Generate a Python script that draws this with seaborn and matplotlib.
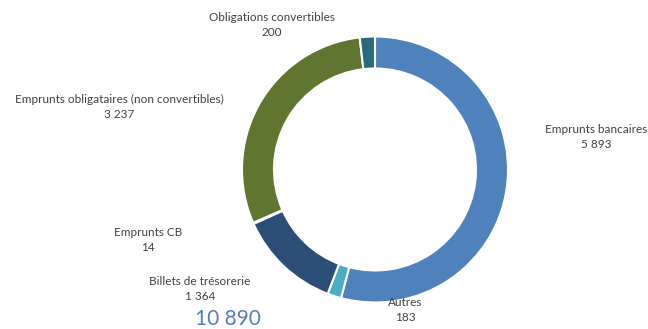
import matplotlib
matplotlib.use("Agg")
import matplotlib.pyplot as plt
import seaborn as sns

categories = ["Emprunts bancaires", "Autres", "Billets de trésorerie", "Emprunts CB",
              "Emprunts obligataires (non convertibles)", "Obligations convertibles"]
values = [5893, 183, 1364, 14, 3237, 200]
total = 10890

colors = ["#4F81BD", "#4BACC6", "#2C4D75", "#7F6084", "#5F7530", "#276A7C"]
# label centre positions in pixel coordinates (x, y from top)
label_pos = [(596, 137), (405, 310), (200, 289), (148, 240), (119, 107), (272, 25)]

sns.set_theme(style="white")
plt.rcParams['font.family'] = ['Lato', 'DejaVu Sans']

W, H = 648, 329
fig = plt.figure(figsize=(W / 100, H / 100), dpi=100)
ax = fig.add_axes([0, 0, 1, 1])

cx, cy, r = 375, H - 169.5, 133
ax.pie(values, colors=colors, startangle=90, counterclock=False,
       center=(cx, cy), radius=r, frame=True,
       wedgeprops=dict(width=32, edgecolor='white', linewidth=1.5))
ax.set_xlim(0, W)
ax.set_ylim(0, H)
ax.set_aspect('equal')
ax.axis('off')

def fmt(v):
    return f"{v:,}".replace(",", " ")

for cat, v, (x, y) in zip(categories, values, label_pos):
    ax.text(x, H - y, f"{cat}\n{fmt(v)}", ha='center', va='center',
            fontsize=8.5, color='#404040', linespacing=1.35)

ax.text(228, H - 319, fmt(total), ha='center', va='center', fontsize=15,
        color='#4F7FBF')

fig.savefig("out.png", dpi=100)
